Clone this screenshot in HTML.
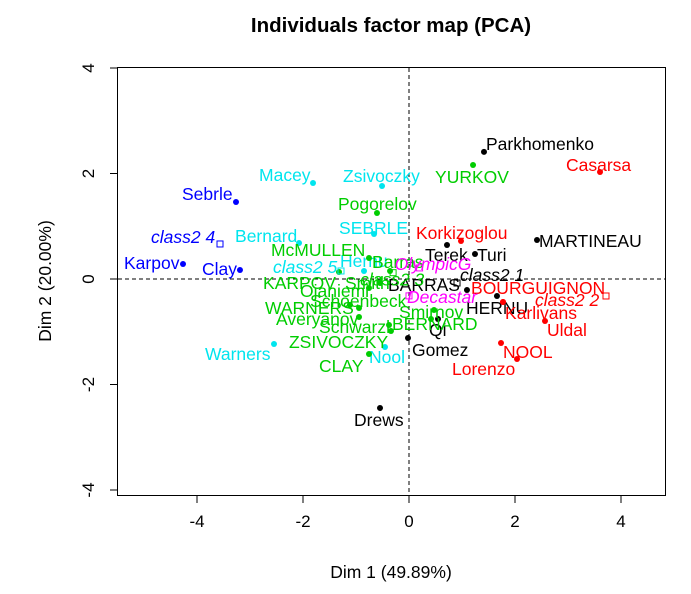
<!DOCTYPE html>
<html><head><meta charset="utf-8"><style>
body{margin:0;background:#fff;}
svg text{font-family:"Liberation Sans",Arial,sans-serif;}
</style></head><body>
<svg id="chart" width="691" height="589" xmlns="http://www.w3.org/2000/svg">
<text x="391" y="32" font-size="20.5" font-weight="bold" text-anchor="middle">Individuals factor map (PCA)</text>
<text x="391" y="578" font-size="17.5" text-anchor="middle">Dim 1 (49.89%)</text>
<text x="51" y="281" font-size="17.5" text-anchor="middle" transform="rotate(-90 51 281)">Dim 2 (20.00%)</text>
<rect x="117.5" y="67.5" width="548" height="428" fill="none" stroke="#000"/>
<g id="axes"></g><g id="marks"></g>
</svg>
<script>
const names=["Parkhomenko","MARTINEAU","Terek","Turi","BARRAS","HERNU","Qi","Gomez","Drews","Casarsa","Korkizoglou","BOURGUIGNON","Karlivans","Uldal","NOOL","Lorenzo","Sebrle","Karpov","Clay","Macey","Zsivoczky","Bernard","SEBRLE","Hernu","Warners","Nool","YURKOV","Pogorelov","McMULLEN","Barras","KARPOV","Smith","Ojaniemi","Schoenbeck","WARNERS","Averyanov","Schwarzl","BERNARD","Smirnov","ZSIVOCZKY","CLAY"];
const dim1=[1.415,2.415,0.717,1.245,1.094,1.66,0.547,-0.019,-0.547,3.604,0.981,1.774,1.774,2.566,1.736,2.038,-3.264,-4.264,-3.189,-1.811,-0.509,-2.075,-0.66,-0.849,-2.547,-0.453,1.208,-0.604,-0.755,-0.358,-1.32,-0.547,-0.755,-0.943,-1.113,-0.943,-0.377,0.415,0.472,-0.34,-0.755];
const dim2=[2.41,0.74,0.645,0.474,-0.209,-0.322,-0.758,-1.118,-2.445,2.028,0.72,-0.436,-0.436,-0.796,-1.213,-1.517,1.46,0.284,0.171,1.82,1.763,0.682,0.853,0.152,-1.232,-1.289,2.161,1.251,0.398,0.152,0.133,-0.076,-0.171,-0.55,-0.493,-0.72,-0.872,-0.758,-0.588,-0.986,-1.422];
const groups=[0,0,0,0,0,0,0,0,0,1,1,1,1,1,1,1,2,2,2,3,3,3,3,3,3,3,4,4,4,4,4,4,4,4,4,4,4,4,4,4,4];
const supNames=["class2 1","class2 2","class2 3","class2 4","class2 5","OlympicG","Decastar"];
const supDim1=[0.906,3.717,-0.3,-3.566,-1.283,0.2,0.0];
const supDim2=[-0.076,-0.322,0.12,0.664,0.152,0.21,-0.32];
const supGroups=[0,1,4,2,3,5,5];
const xTicks=[-4,-2,0,2,4];
const yTicks=[-4,-2,0,2,4];
// label offsets (styling)
const ldx=[2,2,-22,2,-79,-31,-9,4,-26,-34,-45,-32,2,2,2,-65,-54,-59,-38,-54,-39,-64,-35,-24,-69,-16,-38,-39,-98,-18,-76,-35,-69,-49,-85,-83,-70,-39,-35,-102,-50];
const ldy=[-2,7,16,7,1,18,17,18,18,-1,-2,-8,17,15,15,16,-2,5,5,-2,-4,-1,0,-4,16,16,18,-3,-2,-3,17,6,9,-1,9,8,8,11,8,17,18];
const sdx=[3,-71,-33,-69,-68,-25,-2],sdy=[-2,10,13,-1,2,2,7];
const colors=["#000000","#ff0000","#0000ff","#00e5ee","#00cd00","#ff00ff"];
const X=v=>409+53*v, Y=v=>279-52.75*v;
const NS="http://www.w3.org/2000/svg";
const ax=document.getElementById('axes'),mk=document.getElementById('marks');
function el(t,a,p){const e=document.createElementNS(NS,t);for(const k in a)e.setAttribute(k,a[k]);p.appendChild(e);return e;}
xTicks.forEach(t=>{
 const l=el('line',{x1:X(t),x2:X(t),y1:495.5,y2:503,stroke:'#000'},ax);
 
 
 const tx=el('text',{x:X(t),y:527,'font-size':17,'text-anchor':'middle'},ax);tx.textContent=t;
 
 
});
yTicks.forEach(t=>{
 const l=el('line',{x1:110,x2:117.5,y1:Y(t),y2:Y(t),stroke:'#000'},ax);
 
 
 const tx=el('text',{x:94,y:Y(t),'font-size':17,'text-anchor':'middle',transform:`rotate(-90 94 ${Y(t)})`},ax);tx.textContent=t;
 
 
});
const h=el('line',{x1:118,x2:665,y1:Y(0),y2:Y(0),stroke:'#000','stroke-dasharray':'4 3'},ax);


const v=el('line',{x1:X(0),x2:X(0),y1:68,y2:495,stroke:'#000','stroke-dasharray':'4 3'},ax);


names.forEach((n,i)=>{
 const c=colors[groups[i]],px=X(dim1[i]),py=Y(dim2[i]);
 const d=el('circle',{cx:px,cy:py,r:3,fill:c},mk);
 
 
 const t=el('text',{x:px+ldx[i],y:py+ldy[i],'font-size':17.5,fill:c},mk);t.textContent=n;
 
 
});
supNames.forEach((n,i)=>{
 const c=colors[supGroups[i]],px=X(supDim1[i]),py=Y(supDim2[i]);
 const s=el('rect',{x:px-3,y:py-3,width:6,height:6,fill:'none',stroke:c},mk);
 
 
 const t=el('text',{x:px+sdx[i],y:py+sdy[i],'font-size':17.5,'font-style':'italic',fill:c},mk);t.textContent=n;
 
 
});
</script>
</body></html>
